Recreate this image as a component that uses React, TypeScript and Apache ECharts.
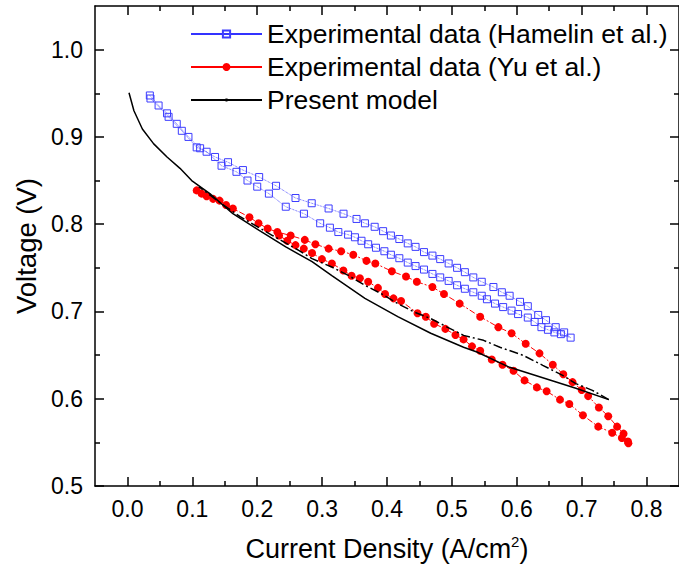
import React, { useEffect, useRef } from "react";
import * as echarts from "echarts";

// ---- Data ----
const hamelinUpper: [number, number][] = [
  [0.0345, 0.9475], [0.048, 0.936], [0.061, 0.927], [0.076, 0.915], [0.094, 0.9], [0.112, 0.887],
  [0.135, 0.877], [0.155, 0.871], [0.178, 0.862], [0.203, 0.854], [0.229, 0.844], [0.259, 0.83],
  [0.284, 0.824], [0.31, 0.818], [0.333, 0.812], [0.353, 0.806], [0.366, 0.801], [0.381, 0.797],
  [0.394, 0.792], [0.406, 0.787], [0.419, 0.783], [0.432, 0.778], [0.444, 0.774], [0.457, 0.768],
  [0.47, 0.764], [0.482, 0.76], [0.495, 0.755], [0.508, 0.75], [0.52, 0.745], [0.533, 0.739],
  [0.546, 0.734], [0.564, 0.728], [0.577, 0.722], [0.589, 0.718], [0.605, 0.711], [0.617, 0.706],
  [0.633, 0.696], [0.645, 0.69], [0.66, 0.682], [0.673, 0.676], [0.683, 0.67],
];
const hamelinLower: [number, number][] = [
  [0.668, 0.674], [0.658, 0.676], [0.648, 0.679], [0.638, 0.682], [0.6275, 0.688], [0.617, 0.693],
  [0.602, 0.697], [0.592, 0.701], [0.579, 0.705], [0.5665, 0.709], [0.554, 0.714], [0.546, 0.718],
  [0.533, 0.722], [0.52, 0.726], [0.508, 0.73], [0.495, 0.735], [0.482, 0.739], [0.47, 0.743],
  [0.457, 0.748], [0.444, 0.752], [0.432, 0.756], [0.419, 0.761], [0.406, 0.765], [0.396, 0.769],
  [0.383, 0.773], [0.371, 0.777], [0.3607, 0.781], [0.3506, 0.785], [0.34, 0.788], [0.325, 0.791],
  [0.312, 0.796], [0.297, 0.801], [0.272, 0.812], [0.244, 0.82], [0.218, 0.835], [0.2, 0.843],
  [0.185, 0.85], [0.168, 0.86], [0.145, 0.867], [0.122, 0.883], [0.1067, 0.888], [0.0838, 0.907],
  [0.0634, 0.923], [0.0355, 0.944],
];
const yuUpper: [number, number][] = [
  [0.1067, 0.8387], [0.1143, 0.835], [0.122, 0.832], [0.132, 0.829], [0.142, 0.827], [0.152, 0.822],
  [0.1625, 0.818], [0.188, 0.808], [0.202, 0.801], [0.216, 0.795], [0.231, 0.791], [0.2515, 0.787],
  [0.2733, 0.782], [0.2896, 0.777], [0.31, 0.772], [0.3293, 0.769], [0.348, 0.765], [0.3683, 0.758],
  [0.382, 0.755], [0.4075, 0.746], [0.4293, 0.74], [0.446, 0.734], [0.47, 0.728], [0.4878, 0.72],
  [0.512, 0.709], [0.5436, 0.694], [0.5716, 0.682], [0.592, 0.675], [0.6137, 0.663], [0.635, 0.652],
  [0.6555, 0.639], [0.6717, 0.628], [0.686, 0.619], [0.7, 0.61], [0.71, 0.603], [0.7265, 0.59],
  [0.741, 0.58], [0.7546, 0.568], [0.7646, 0.56], [0.772, 0.549],
];
const yuLower: [number, number][] = [
  [0.7713, 0.551], [0.762, 0.555], [0.747, 0.561], [0.7256, 0.568], [0.702, 0.581], [0.681, 0.594],
  [0.6666, 0.599], [0.646, 0.6085], [0.631, 0.613], [0.612, 0.621], [0.595, 0.632], [0.578, 0.639],
  [0.5614, 0.645], [0.5436, 0.655], [0.531, 0.66], [0.518, 0.668], [0.5055, 0.673], [0.49, 0.68],
  [0.4726, 0.686], [0.4598, 0.694], [0.447, 0.698], [0.4217, 0.712], [0.41, 0.715], [0.397, 0.72],
  [0.386, 0.727], [0.371, 0.734], [0.3582, 0.738], [0.3454, 0.741], [0.3328, 0.747], [0.315, 0.755],
  [0.2997, 0.76], [0.2845, 0.767], [0.2718, 0.772], [0.259, 0.776], [0.2463, 0.781], [0.2337, 0.787],
];
const modelForward: [number, number][] = [
  [0.0024, 0.9506], [0.01, 0.93], [0.023, 0.909], [0.0405, 0.892], [0.061, 0.877], [0.081, 0.864],
  [0.099, 0.85], [0.127, 0.835], [0.1625, 0.812], [0.203, 0.793], [0.244, 0.774], [0.2845, 0.757],
  [0.315, 0.741], [0.366, 0.715], [0.4166, 0.694], [0.4674, 0.675], [0.518, 0.659], [0.5386, 0.6535],
  [0.589, 0.636], [0.64, 0.624], [0.691, 0.612], [0.7418, 0.599],
];
const modelBackward: [number, number][] = [
  [0.7418, 0.599], [0.7165, 0.6096], [0.691, 0.6173], [0.6707, 0.6268], [0.64, 0.6383], [0.61, 0.6497],
  [0.574, 0.659], [0.5488, 0.6669], [0.518, 0.6726], [0.4928, 0.6821], [0.4674, 0.6918], [0.442, 0.6993],
  [0.4166, 0.709], [0.391, 0.7204], [0.366, 0.73], [0.3404, 0.7413], [0.315, 0.7509], [0.2845, 0.7605],
  [0.264, 0.77], [0.2235, 0.787], [0.198, 0.798], [0.173, 0.809], [0.14, 0.826], [0.11, 0.843],
];

const xMajorTicks = [0, 0.1, 0.2, 0.3, 0.4, 0.5, 0.6, 0.7, 0.8];
const xMinorTicks = [0.05, 0.15, 0.25, 0.35, 0.45, 0.55, 0.65, 0.75];
const yMajorTicks = [0.5, 0.6, 0.7, 0.8, 0.9, 1.0];
const yMinorTicks = [0.55, 0.65, 0.75, 0.85, 0.95];

const SERIES_HAMELIN = "Experimental data (Hamelin et al.)";
const SERIES_YU = "Experimental data (Yu et al.)";
const SERIES_MODEL = "Present model";

const FONT = "'Liberation Sans', Arial, sans-serif";

export default function App() {
  const ref = useRef<HTMLDivElement>(null);
  useEffect(() => {
    if (!ref.current) return;
    const chart = echarts.init(ref.current, undefined, { renderer: "svg" });
    const axisLine = { show: true, onZero: false, lineStyle: { color: "#000", width: 1.5 } };
    const noLine = { show: false, onZero: false };
    const xBase = { type: "value" as const, min: -0.05, max: 0.85, splitLine: { show: false }, gridIndex: 0 };
    const yBase = { type: "value" as const, min: 0.5, max: 1.05, splitLine: { show: false }, gridIndex: 0 };
    const major = (vals: number[]) => ({ show: true, inside: true, length: 9, customValues: vals, lineStyle: { color: "#000", width: 1.5 } });
    const minor = (vals: number[]) => ({ show: true, inside: true, length: 5, customValues: vals, lineStyle: { color: "#000", width: 1.5 } });
    const legendCommon = {
      orient: "vertical" as const,
      left: 190,
      padding: 0,
      itemWidth: 71,
      textStyle: { fontSize: 26.5, color: "#000", fontFamily: FONT, lineHeight: 30 },
      lineStyle: { width: 2, type: "solid" as const },
    };
    chart.setOption({
      animation: false,
      backgroundColor: "#fff",
      grid: { left: 95, top: 6, width: 589, height: 480 },
      legend: [
        { ...legendCommon, top: 19, itemHeight: 9, data: [SERIES_HAMELIN] },
        { ...legendCommon, top: 52, itemHeight: 10, data: [SERIES_YU] },
        { ...legendCommon, top: 85, itemHeight: 4, data: [SERIES_MODEL] },
      ],
      xAxis: [
        {
          ...xBase,
          position: "bottom",
          axisLine,
          axisTick: major(xMajorTicks),
          axisLabel: {
            customValues: xMajorTicks,
            formatter: (v: number) => v.toFixed(1),
            fontSize: 23,
            color: "#000",
            fontFamily: FONT,
            margin: 11,
          },
          name: "{a|Current Density (A/cm}{s|2}{a|)}",
          nameLocation: "middle",
          nameGap: 48,
          nameTextStyle: {
            rich: {
              a: { fontSize: 27, color: "#000", fontFamily: FONT },
              s: { fontSize: 15, color: "#000", fontFamily: FONT, verticalAlign: "top", padding: [0, 0, 14, 0] },
            },
          },
        },
        { ...xBase, position: "bottom", axisLine: noLine, axisTick: minor(xMinorTicks), axisLabel: { show: false } },
        { ...xBase, position: "top", axisLine, axisTick: major(xMajorTicks), axisLabel: { show: false } },
        { ...xBase, position: "top", axisLine: noLine, axisTick: minor(xMinorTicks), axisLabel: { show: false } },
      ],
      yAxis: [
        {
          ...yBase,
          position: "left",
          axisLine,
          axisTick: major(yMajorTicks),
          axisLabel: {
            customValues: yMajorTicks,
            formatter: (v: number) => v.toFixed(1),
            fontSize: 23,
            color: "#000",
            fontFamily: FONT,
            margin: 12,
          },
          name: "Voltage (V)",
          nameLocation: "middle",
          nameGap: 52,
          nameTextStyle: { fontSize: 27.5, color: "#000", fontFamily: FONT },
        },
        { ...yBase, position: "left", axisLine: noLine, axisTick: minor(yMinorTicks), axisLabel: { show: false } },
        { ...yBase, position: "right", axisLine, axisTick: major(yMajorTicks), axisLabel: { show: false } },
        { ...yBase, position: "right", axisLine: noLine, axisTick: minor(yMinorTicks), axisLabel: { show: false } },
      ],
      series: [
        {
          name: SERIES_HAMELIN,
          type: "line",
          data: [...hamelinUpper, ...hamelinLower],
          symbol: "rect",
          symbolSize: 7,
          itemStyle: { color: "rgba(255,255,255,0)", borderColor: "#3c3cff", borderWidth: 1 },
          lineStyle: { color: "#3333ff", width: 0.8, type: "dotted" },
          z: 3,
        },
        {
          name: SERIES_YU,
          type: "line",
          data: [...yuUpper, ...yuLower],
          symbol: "circle",
          symbolSize: 8,
          itemStyle: { color: "#ff0000" },
          lineStyle: { color: "#ff0000", width: 1, type: [6, 2, 2, 2] },
          z: 4,
        },
        {
          name: SERIES_MODEL,
          type: "line",
          data: modelForward,
          symbol: "circle",
          symbolSize: 3,
          showSymbol: false,
          itemStyle: { color: "#000" },
          lineStyle: { color: "#000", width: 1.5 },
          z: 5,
        },
        {
          name: "model-return",
          type: "line",
          data: modelBackward,
          showSymbol: false,
          symbol: "none",
          itemStyle: { color: "#000" },
          lineStyle: { color: "#000", width: 1.5, type: [9, 3, 2, 3] },
          z: 5,
        },
      ],
    });
    return () => chart.dispose();
  }, []);
  return (
    <div
      ref={ref}
      style={{ position: "absolute", left: 0, top: 0, width: 679, height: 569 }}
    />
  );
}
